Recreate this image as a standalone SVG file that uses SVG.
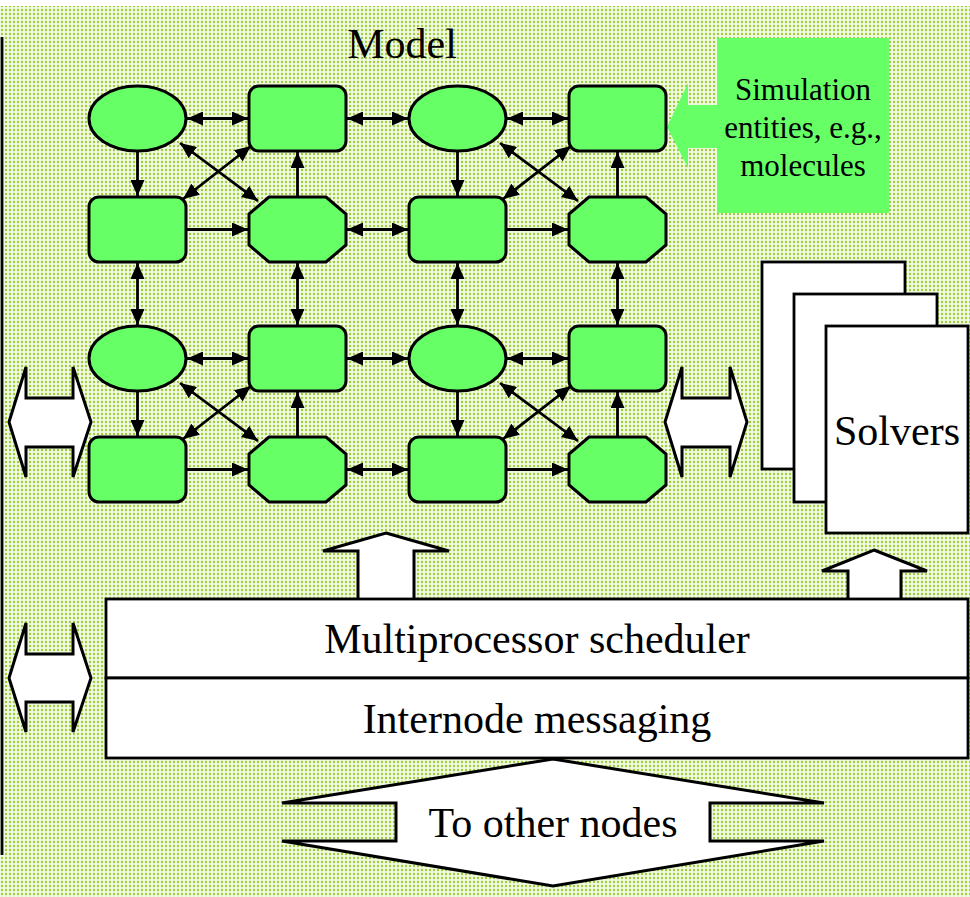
<svg xmlns="http://www.w3.org/2000/svg" width="970" height="897" viewBox="0 0 970 897">
<defs>
<pattern id="dots" x="0" y="0" width="4" height="4" patternUnits="userSpaceOnUse">
<rect width="4" height="4" fill="#f2f9e2"/>
<circle cx="2" cy="2" r="1.2" fill="#9ccc3a"/>
</pattern>
<marker id="ah" viewBox="0 0 16 14" refX="16" refY="7" markerWidth="16" markerHeight="14" markerUnits="userSpaceOnUse" orient="auto-start-reverse">
<path d="M0,0 L16,7 L0,14 z" fill="#000"/>
</marker>
</defs>
<style>
.node{fill:#66ff66;stroke:#000;stroke-width:3}
.c{stroke:#000;stroke-width:2.8;fill:none}
.one{marker-end:url(#ah)}
.two{marker-start:url(#ah);marker-end:url(#ah)}
.box{fill:#fff;stroke:#000;stroke-width:2.8}
.big{fill:#fff;stroke:#000;stroke-width:3;stroke-linejoin:miter}
.t{font-family:"Liberation Serif","Times New Roman",serif;font-size:42px;fill:#000;text-anchor:middle}
.ts{font-family:"Liberation Serif","Times New Roman",serif;font-size:31px;fill:#000;text-anchor:middle}
</style>
<rect x="0" y="6" width="970" height="891" fill="url(#dots)"/>
<line x1="2" y1="37" x2="2" y2="855" stroke="#000" stroke-width="2.8"/>
<text class="t" x="402" y="58">Model</text>
<g id="callout">
<polygon points="667,127 688,83 688,105 717,105 717,38 889,38 889,213 717,213 717,148 688,148 688,168" fill="#66ff66"/>
<text class="ts" x="803" y="100">Simulation</text>
<text class="ts" x="803" y="138">entities, e.g.,</text>
<text class="ts" x="803" y="176">molecules</text>
</g>
<g id="n-r1c1"><ellipse class="node" cx="137.5" cy="118.5" rx="48.5" ry="32.5"/></g>
<g id="n-r1c2"><rect class="node" x="249" y="86" width="97" height="65" rx="10"/></g>
<g id="n-r1c3"><ellipse class="node" cx="457.5" cy="118.5" rx="48.5" ry="32.5"/></g>
<g id="n-r1c4"><rect class="node" x="569" y="86" width="97" height="65" rx="10"/></g>
<g id="n-r2c1"><rect class="node" x="89" y="197" width="97" height="65" rx="10"/></g>
<g id="n-r2c2"><polygon class="node" points="269,197 326,197 346,214 346,245 326,262 269,262 249,245 249,214"/></g>
<g id="n-r2c3"><rect class="node" x="409" y="197" width="97" height="65" rx="10"/></g>
<g id="n-r2c4"><polygon class="node" points="589,197 646,197 666,214 666,245 646,262 589,262 569,245 569,214"/></g>
<g id="n-r3c1"><ellipse class="node" cx="137.5" cy="358.5" rx="48.5" ry="32.5"/></g>
<g id="n-r3c2"><rect class="node" x="249" y="326" width="97" height="65" rx="10"/></g>
<g id="n-r3c3"><ellipse class="node" cx="457.5" cy="358.5" rx="48.5" ry="32.5"/></g>
<g id="n-r3c4"><rect class="node" x="569" y="326" width="97" height="65" rx="10"/></g>
<g id="n-r4c1"><rect class="node" x="89" y="437" width="97" height="65" rx="10"/></g>
<g id="n-r4c2"><polygon class="node" points="269,437 326,437 346,454 346,485 326,502 269,502 249,485 249,454"/></g>
<g id="n-r4c3"><rect class="node" x="409" y="437" width="97" height="65" rx="10"/></g>
<g id="n-r4c4"><polygon class="node" points="589,437 646,437 666,454 666,485 646,502 589,502 569,485 569,454"/></g>
<g id="connectors">
<line class="c two" x1="187" y1="118.5" x2="248" y2="118.5"/>
<line class="c two" x1="347" y1="118.5" x2="408" y2="118.5"/>
<line class="c two" x1="507" y1="118.5" x2="568" y2="118.5"/>
<line class="c one" x1="187" y1="229.5" x2="248" y2="229.5"/>
<line class="c two" x1="347" y1="229.5" x2="408" y2="229.5"/>
<line class="c one" x1="507" y1="229.5" x2="568" y2="229.5"/>
<line class="c two" x1="187" y1="358.5" x2="248" y2="358.5"/>
<line class="c two" x1="347" y1="358.5" x2="408" y2="358.5"/>
<line class="c two" x1="507" y1="358.5" x2="568" y2="358.5"/>
<line class="c one" x1="187" y1="469.5" x2="248" y2="469.5"/>
<line class="c two" x1="347" y1="469.5" x2="408" y2="469.5"/>
<line class="c one" x1="507" y1="469.5" x2="568" y2="469.5"/>
<line class="c one" x1="137.5" y1="151" x2="137.5" y2="196"/>
<line class="c one" x1="457.5" y1="151" x2="457.5" y2="196"/>
<line class="c one" x1="297.5" y1="197" x2="297.5" y2="152"/>
<line class="c one" x1="617.5" y1="197" x2="617.5" y2="152"/>
<line class="c one" x1="137.5" y1="391" x2="137.5" y2="436"/>
<line class="c one" x1="457.5" y1="391" x2="457.5" y2="436"/>
<line class="c one" x1="297.5" y1="437" x2="297.5" y2="392"/>
<line class="c one" x1="617.5" y1="437" x2="617.5" y2="392"/>
<line class="c two" x1="137.5" y1="263" x2="137.5" y2="325"/>
<line class="c two" x1="297.5" y1="263" x2="297.5" y2="325"/>
<line class="c two" x1="457.5" y1="263" x2="457.5" y2="325"/>
<line class="c two" x1="617.5" y1="263" x2="617.5" y2="325"/>
<line class="c two" x1="180" y1="143" x2="258" y2="201"/>
<line class="c two" x1="183" y1="199" x2="251" y2="146"/>
<line class="c two" x1="500" y1="143" x2="578" y2="201"/>
<line class="c two" x1="503" y1="199" x2="571" y2="146"/>
<line class="c two" x1="180" y1="383" x2="258" y2="441"/>
<line class="c two" x1="183" y1="439" x2="251" y2="386"/>
<line class="c two" x1="500" y1="383" x2="578" y2="441"/>
<line class="c two" x1="503" y1="439" x2="571" y2="386"/>
</g>
<g id="left-arrow-top"><polygon class="big" points="9,422 26,367 26,398 73,398 73,367 91,422 73,477 73,447 26,447 26,477"/></g>
<g id="left-arrow-bottom"><polygon class="big" points="9,678 26,623 26,654 73,654 73,623 91,678 73,732 73,702 26,702 26,732"/></g>
<g id="right-arrow"><polygon class="big" points="665,422 682,367 682,398 730,398 730,367 747,422 730,477 730,447 682,447 682,477"/></g>
<g id="solvers">
<rect class="box" x="762" y="262" width="143" height="207"/>
<rect class="box" x="794" y="294" width="143" height="208"/>
<rect class="box" x="826" y="326" width="142" height="207"/>
<text class="t" x="897" y="445">Solvers</text>
</g>
<g id="up-arrow-model"><polygon class="big" points="386,533 449,551 414,551 414,600 358,600 358,551 323,551"/></g>
<g id="up-arrow-solvers"><polygon class="big" points="874,550 927,571 901,571 901,600 848,600 848,571 822,571"/></g>
<g id="scheduler">
<rect class="box" x="106" y="599" width="862" height="79"/>
<text class="t" x="537" y="653">Multiprocessor scheduler</text>
</g>
<g id="messaging">
<rect class="box" x="106" y="678" width="862" height="80"/>
<text class="t" x="537" y="733">Internode messaging</text>
</g>
<g id="other-nodes">
<polygon class="big" points="553,759 824,803 710,803 710,841 824,841 553,886 282,841 396,841 396,803 282,803"/>
<text class="t" x="553" y="837">To other nodes</text>
</g>
</svg>
